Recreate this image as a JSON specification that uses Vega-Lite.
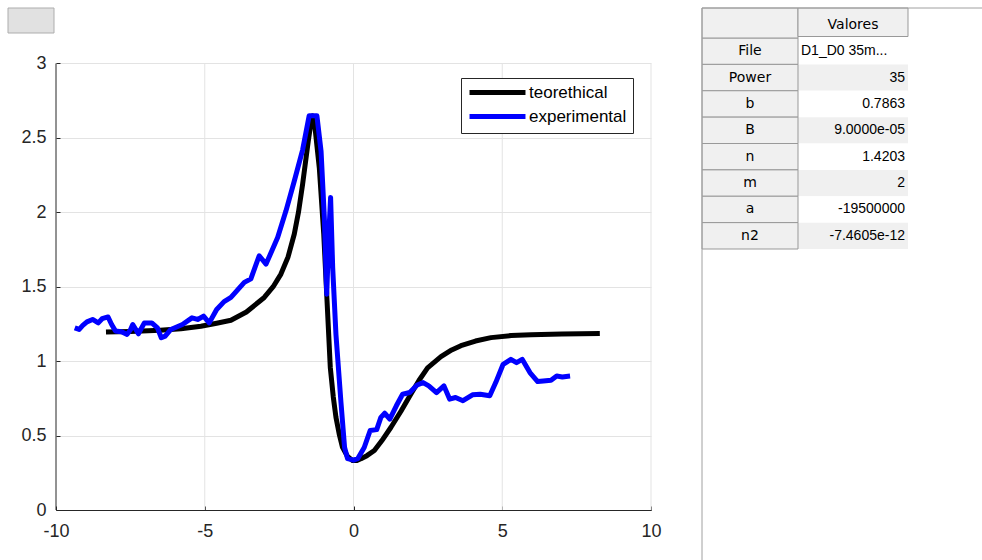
{
  "$schema": "https://vega.github.io/schema/vega-lite/v6.json",
  "padding": {"left": 7, "top": 7, "right": 0, "bottom": 0},
  "bounds": "flush",
  "spacing": 51,
  "config": {"view": {"stroke": null}, "font": "Liberation Sans"},
  "resolve": {"scale": {"color": "independent", "fill": "independent", "x": "independent", "y": "independent"}},
  "hconcat": [
    {
      "width": 595,
      "height": 502,
      "layer": [
        {
          "data": {"values": [{"g": -5}, {"g": 0}, {"g": 5}, {"g": 10}]},
          "mark": {"type": "rule", "color": "#e3e3e3", "strokeWidth": 1},
          "encoding": {
            "x": {"field": "g", "type": "quantitative", "scale": {"domain": [-10, 10], "nice": false, "zero": false}},
            "y": {"datum": 0, "type": "quantitative", "scale": {"domain": [0, 3.3725], "nice": false, "zero": false}},
            "y2": {"datum": 3}
          }
        },
        {
          "data": {"values": [{"kind": "axisline"}]},
          "mark": {"type": "rule", "color": "#262626", "strokeWidth": 1},
          "encoding": {
            "x": {"datum": -10, "type": "quantitative", "scale": {"domain": [-10, 10], "nice": false, "zero": false}},
            "y": {"datum": 0, "type": "quantitative", "scale": {"domain": [0, 3.3725], "nice": false, "zero": false}},
            "y2": {"datum": 3}
          }
        },
        {
          "data": {"values": [{"kind": "button"}]},
          "mark": {"type": "rect", "fill": "#e1e1e1", "stroke": "#adadad", "strokeWidth": 1, "clip": false},
          "encoding": {
            "x": {"datum": -11.613, "type": "quantitative", "scale": {"domain": [-10, 10], "nice": false, "zero": false}},
            "x2": {"datum": -10.067},
            "y": {"datum": 3.3725, "type": "quantitative", "scale": {"domain": [0, 3.3725], "nice": false, "zero": false}},
            "y2": {"datum": 3.2045}
          }
        },
        {
          "data": {"values": [
            {"series": "teorethical", "x": -8.32, "y": 1.195},
            {"series": "teorethical", "x": -7.5, "y": 1.2},
            {"series": "teorethical", "x": -6.5, "y": 1.207},
            {"series": "teorethical", "x": -5.8, "y": 1.218},
            {"series": "teorethical", "x": -5.13, "y": 1.235},
            {"series": "teorethical", "x": -4.6, "y": 1.255},
            {"series": "teorethical", "x": -4.12, "y": 1.275},
            {"series": "teorethical", "x": -3.6, "y": 1.33},
            {"series": "teorethical", "x": -3.0, "y": 1.428},
            {"series": "teorethical", "x": -2.7, "y": 1.5},
            {"series": "teorethical", "x": -2.44, "y": 1.585},
            {"series": "teorethical", "x": -2.2, "y": 1.7},
            {"series": "teorethical", "x": -1.99, "y": 1.854},
            {"series": "teorethical", "x": -1.85, "y": 2.0},
            {"series": "teorethical", "x": -1.71, "y": 2.19},
            {"series": "teorethical", "x": -1.52, "y": 2.48},
            {"series": "teorethical", "x": -1.43, "y": 2.6},
            {"series": "teorethical", "x": -1.37, "y": 2.648},
            {"series": "teorethical", "x": -1.3, "y": 2.58},
            {"series": "teorethical", "x": -1.15, "y": 2.3},
            {"series": "teorethical", "x": -1.0, "y": 1.854},
            {"series": "teorethical", "x": -0.89, "y": 1.406},
            {"series": "teorethical", "x": -0.78, "y": 0.958},
            {"series": "teorethical", "x": -0.68, "y": 0.76},
            {"series": "teorethical", "x": -0.59, "y": 0.623},
            {"series": "teorethical", "x": -0.48, "y": 0.51},
            {"series": "teorethical", "x": -0.37, "y": 0.421},
            {"series": "teorethical", "x": -0.2, "y": 0.36},
            {"series": "teorethical", "x": -0.03, "y": 0.332},
            {"series": "teorethical", "x": 0.1, "y": 0.332},
            {"series": "teorethical", "x": 0.25, "y": 0.344},
            {"series": "teorethical", "x": 0.45, "y": 0.365},
            {"series": "teorethical", "x": 0.7, "y": 0.4},
            {"series": "teorethical", "x": 0.95, "y": 0.465},
            {"series": "teorethical", "x": 1.26, "y": 0.556},
            {"series": "teorethical", "x": 1.6, "y": 0.665},
            {"series": "teorethical", "x": 1.93, "y": 0.78},
            {"series": "teorethical", "x": 2.2, "y": 0.87},
            {"series": "teorethical", "x": 2.49, "y": 0.955},
            {"series": "teorethical", "x": 2.94, "y": 1.03},
            {"series": "teorethical", "x": 3.3, "y": 1.075},
            {"series": "teorethical", "x": 3.61, "y": 1.104},
            {"series": "teorethical", "x": 4.1, "y": 1.135},
            {"series": "teorethical", "x": 4.62, "y": 1.158},
            {"series": "teorethical", "x": 5.3, "y": 1.172},
            {"series": "teorethical", "x": 5.97, "y": 1.178},
            {"series": "teorethical", "x": 7.0, "y": 1.183},
            {"series": "teorethical", "x": 8.28, "y": 1.186},
            {"series": "experimental", "x": -9.37, "y": 1.224},
            {"series": "experimental", "x": -9.22, "y": 1.213},
            {"series": "experimental", "x": -9.1, "y": 1.24},
            {"series": "experimental", "x": -8.96, "y": 1.264},
            {"series": "experimental", "x": -8.77, "y": 1.28},
            {"series": "experimental", "x": -8.58, "y": 1.257},
            {"series": "experimental", "x": -8.45, "y": 1.285},
            {"series": "experimental", "x": -8.25, "y": 1.297},
            {"series": "experimental", "x": -8.13, "y": 1.246},
            {"series": "experimental", "x": -8.0, "y": 1.202},
            {"series": "experimental", "x": -7.8, "y": 1.197},
            {"series": "experimental", "x": -7.61, "y": 1.18},
            {"series": "experimental", "x": -7.5, "y": 1.21},
            {"series": "experimental", "x": -7.42, "y": 1.246},
            {"series": "experimental", "x": -7.23, "y": 1.184},
            {"series": "experimental", "x": -7.03, "y": 1.257},
            {"series": "experimental", "x": -6.78, "y": 1.257},
            {"series": "experimental", "x": -6.59, "y": 1.224},
            {"series": "experimental", "x": -6.46, "y": 1.157},
            {"series": "experimental", "x": -6.33, "y": 1.168},
            {"series": "experimental", "x": -6.14, "y": 1.213},
            {"series": "experimental", "x": -5.75, "y": 1.246},
            {"series": "experimental", "x": -5.43, "y": 1.291},
            {"series": "experimental", "x": -5.24, "y": 1.28},
            {"series": "experimental", "x": -5.04, "y": 1.302},
            {"series": "experimental", "x": -4.85, "y": 1.257},
            {"series": "experimental", "x": -4.6, "y": 1.347},
            {"series": "experimental", "x": -4.35, "y": 1.4},
            {"series": "experimental", "x": -4.12, "y": 1.428},
            {"series": "experimental", "x": -3.67, "y": 1.529},
            {"series": "experimental", "x": -3.45, "y": 1.553},
            {"series": "experimental", "x": -3.17, "y": 1.708},
            {"series": "experimental", "x": -2.94, "y": 1.652},
            {"series": "experimental", "x": -2.55, "y": 1.83},
            {"series": "experimental", "x": -2.27, "y": 2.01},
            {"series": "experimental", "x": -1.99, "y": 2.21},
            {"series": "experimental", "x": -1.71, "y": 2.42},
            {"series": "experimental", "x": -1.49, "y": 2.648},
            {"series": "experimental", "x": -1.23, "y": 2.648},
            {"series": "experimental", "x": -1.09, "y": 2.41},
            {"series": "experimental", "x": -0.98, "y": 1.965},
            {"series": "experimental", "x": -0.9, "y": 1.45},
            {"series": "experimental", "x": -0.83, "y": 1.85},
            {"series": "experimental", "x": -0.77, "y": 2.1},
            {"series": "experimental", "x": -0.7, "y": 1.63},
            {"series": "experimental", "x": -0.59, "y": 1.18},
            {"series": "experimental", "x": -0.42, "y": 0.72},
            {"series": "experimental", "x": -0.3, "y": 0.42},
            {"series": "experimental", "x": -0.2, "y": 0.345},
            {"series": "experimental", "x": 0.0, "y": 0.335},
            {"series": "experimental", "x": 0.14, "y": 0.345},
            {"series": "experimental", "x": 0.36, "y": 0.42},
            {"series": "experimental", "x": 0.56, "y": 0.534},
            {"series": "experimental", "x": 0.78, "y": 0.54},
            {"series": "experimental", "x": 0.92, "y": 0.622},
            {"series": "experimental", "x": 1.05, "y": 0.65},
            {"series": "experimental", "x": 1.22, "y": 0.611},
            {"series": "experimental", "x": 1.44, "y": 0.7},
            {"series": "experimental", "x": 1.65, "y": 0.778},
            {"series": "experimental", "x": 1.89, "y": 0.789},
            {"series": "experimental", "x": 2.14, "y": 0.84},
            {"series": "experimental", "x": 2.34, "y": 0.856},
            {"series": "experimental", "x": 2.53, "y": 0.834},
            {"series": "experimental", "x": 2.79, "y": 0.789},
            {"series": "experimental", "x": 3.04, "y": 0.834},
            {"series": "experimental", "x": 3.23, "y": 0.745},
            {"series": "experimental", "x": 3.43, "y": 0.756},
            {"series": "experimental", "x": 3.68, "y": 0.734},
            {"series": "experimental", "x": 4.0, "y": 0.774},
            {"series": "experimental", "x": 4.26, "y": 0.778},
            {"series": "experimental", "x": 4.58, "y": 0.767},
            {"series": "experimental", "x": 4.78, "y": 0.856},
            {"series": "experimental", "x": 5.03, "y": 0.979},
            {"series": "experimental", "x": 5.29, "y": 1.012},
            {"series": "experimental", "x": 5.48, "y": 0.99},
            {"series": "experimental", "x": 5.67, "y": 1.012},
            {"series": "experimental", "x": 5.93, "y": 0.923},
            {"series": "experimental", "x": 6.19, "y": 0.863},
            {"series": "experimental", "x": 6.38, "y": 0.867},
            {"series": "experimental", "x": 6.64, "y": 0.872},
            {"series": "experimental", "x": 6.83, "y": 0.9},
            {"series": "experimental", "x": 7.02, "y": 0.894},
            {"series": "experimental", "x": 7.28, "y": 0.9}
          ]},
          "mark": {"type": "line", "strokeWidth": 5, "strokeJoin": "round"},
          "encoding": {
            "x": {
              "field": "x", "type": "quantitative",
              "scale": {"domain": [-10, 10], "nice": false, "zero": false},
              "axis": {
                "values": [-10, -5, 0, 5, 10], "grid": false, "title": null,
                "labelExpr": "'' + datum.value",
                "domainColor": "#262626", "tickColor": "#262626", "tickSize": -4,
                "labelPadding": 16.5, "labelFontSize": 18, "labelColor": "#262626",
                "labelFont": "Liberation Sans", "labelFlush": false, "labelOverlap": false
              }
            },
            "y": {
              "field": "y", "type": "quantitative",
              "scale": {"domain": [0, 3.3725], "nice": false, "zero": false},
              "axis": {
                "values": [0, 0.5, 1, 1.5, 2, 2.5, 3], "labelExpr": "'' + datum.value", "grid": true,
                "gridColor": "#e3e3e3", "domain": false, "title": null,
                "tickColor": "#262626", "tickSize": -4, "labelPadding": 14,
                "labelFontSize": 18, "labelColor": "#262626", "labelFont": "Liberation Sans",
                "labelFlush": false, "labelOverlap": false
              }
            },
            "color": {
              "field": "series", "type": "nominal",
              "scale": {"domain": ["teorethical", "experimental"], "range": ["#000000", "#0000ff"]},
              "legend": {
                "orient": "none", "legendX": 405, "legendY": 70, "title": null,
                "symbolType": "M-6,0H6", "symbolSize": 87, "symbolStrokeWidth": 5,
                "labelFontSize": 17, "labelFont": "Liberation Sans", "labelColor": "#000000",
                "labelOffset": 23, "padding": 6, "rowPadding": 3, "symbolOffset": 22,
                "strokeColor": "#262626", "fillColor": "#ffffff"
              }
            }
          }
        }
      ]
    },
    {
      "width": 281,
      "height": 553,
      "layer": [
        {
          "data": {"values": [
            {"param": "File", "value": "D1_D0 35m..."},
            {"param": "Power", "value": "35"},
            {"param": "b", "value": "0.7863"},
            {"param": "B", "value": "9.0000e-05"},
            {"param": "n", "value": "1.4203"},
            {"param": "m", "value": "2"},
            {"param": "a", "value": "-19500000"},
            {"param": "n2", "value": "-7.4605e-12"}
          ]},
          "encoding": {
            "y": {
              "field": "param", "type": "nominal", "sort": null,
              "scale": {"domain": ["File", "Power", "b", "B", "n", "m", "a", "n2"], "range": [30, 241], "paddingInner": 0, "paddingOuter": 0},
              "axis": null
            }
          },
          "layer": [
            {
              "mark": {"type": "rect"},
              "encoding": {
                "x": {"datum": 1, "type": "quantitative", "scale": {"domain": [0, 1, 2, 3], "range": [0, 96, 206, 281], "nice": false, "zero": false}, "axis": null},
                "x2": {"datum": 2},
                "fill": {
                  "field": "param", "type": "nominal",
                  "scale": {"domain": ["File", "Power", "b", "B", "n", "m", "a", "n2"], "range": ["#ffffff", "#f0f0f0", "#ffffff", "#f0f0f0", "#ffffff", "#f0f0f0", "#ffffff", "#f0f0f0"]},
                  "legend": null
                }
              }
            },
            {
              "mark": {"type": "rect", "fill": "#f0f0f0", "stroke": "#999999", "strokeWidth": 1},
              "encoding": {
                "x": {"datum": 0, "type": "quantitative", "scale": {"domain": [0, 1, 2, 3], "range": [0, 96, 206, 281], "nice": false, "zero": false}, "axis": null},
                "x2": {"datum": 1}
              }
            },
            {
              "mark": {"type": "text", "font": "DejaVu Sans", "fontSize": 14, "color": "#000000", "align": "center", "baseline": "middle"},
              "encoding": {
                "x": {"datum": 0.5, "type": "quantitative", "scale": {"domain": [0, 1, 2, 3], "range": [0, 96, 206, 281], "nice": false, "zero": false}, "axis": null},
                "text": {"field": "param"}
              }
            },
            {
              "transform": [{"filter": "datum.param !== 'File'"}],
              "mark": {"type": "text", "font": "Liberation Sans", "fontSize": 14, "color": "#000000", "align": "right", "baseline": "middle", "dx": -3},
              "encoding": {
                "x": {"datum": 2, "type": "quantitative", "scale": {"domain": [0, 1, 2, 3], "range": [0, 96, 206, 281], "nice": false, "zero": false}, "axis": null},
                "text": {"field": "value"}
              }
            },
            {
              "transform": [{"filter": "datum.param === 'File'"}],
              "mark": {"type": "text", "font": "Liberation Sans", "fontSize": 14, "color": "#000000", "align": "left", "baseline": "middle", "dx": 3},
              "encoding": {
                "x": {"datum": 1, "type": "quantitative", "scale": {"domain": [0, 1, 2, 3], "range": [0, 96, 206, 281], "nice": false, "zero": false}, "axis": null},
                "text": {"field": "value"}
              }
            }
          ]
        },
        {
          "data": {"values": [{"header": "Valores"}]},
          "layer": [
            {
              "mark": {"type": "rect", "fill": "#f0f0f0", "stroke": "#999999", "strokeWidth": 1},
              "encoding": {
                "x": {"datum": 0, "type": "quantitative", "scale": {"domain": [0, 1, 2, 3], "range": [0, 96, 206, 281], "nice": false, "zero": false}, "axis": null},
                "x2": {"datum": 1},
                "y": {"datum": 0, "type": "quantitative", "scale": {"domain": [0, 1], "range": [0, 30], "nice": false, "zero": false}, "axis": null},
                "y2": {"datum": 1}
              }
            },
            {
              "mark": {"type": "rect", "fill": "#f0f0f0", "stroke": "#999999", "strokeWidth": 1},
              "encoding": {
                "x": {"datum": 1, "type": "quantitative", "scale": {"domain": [0, 1, 2, 3], "range": [0, 96, 206, 281], "nice": false, "zero": false}, "axis": null},
                "x2": {"datum": 2},
                "y": {"datum": 0, "type": "quantitative", "scale": {"domain": [0, 1], "range": [0, 30], "nice": false, "zero": false}, "axis": null},
                "y2": {"datum": 0.95}
              }
            },
            {
              "mark": {"type": "text", "font": "DejaVu Sans", "fontSize": 14, "color": "#000000", "align": "center", "baseline": "middle"},
              "encoding": {
                "x": {"datum": 1.5, "type": "quantitative", "scale": {"domain": [0, 1, 2, 3], "range": [0, 96, 206, 281], "nice": false, "zero": false}, "axis": null},
                "y": {"datum": 0.55, "type": "quantitative", "scale": {"domain": [0, 1], "range": [0, 30], "nice": false, "zero": false}, "axis": null},
                "text": {"field": "header"}
              }
            },
            {
              "mark": {"type": "rule", "color": "#a0a0a0", "strokeWidth": 1},
              "encoding": {
                "y": {"datum": 0, "type": "quantitative", "scale": {"domain": [0, 1], "range": [0, 30], "nice": false, "zero": false}, "axis": null}
              }
            },
            {
              "mark": {"type": "rule", "color": "#a0a0a0", "strokeWidth": 1},
              "encoding": {
                "x": {"datum": 0, "type": "quantitative", "scale": {"domain": [0, 1, 2, 3], "range": [0, 96, 206, 281], "nice": false, "zero": false}, "axis": null}
              }
            }
          ]
        }
      ],
      "resolve": {"scale": {"y": "independent"}}
    }
  ]
}
